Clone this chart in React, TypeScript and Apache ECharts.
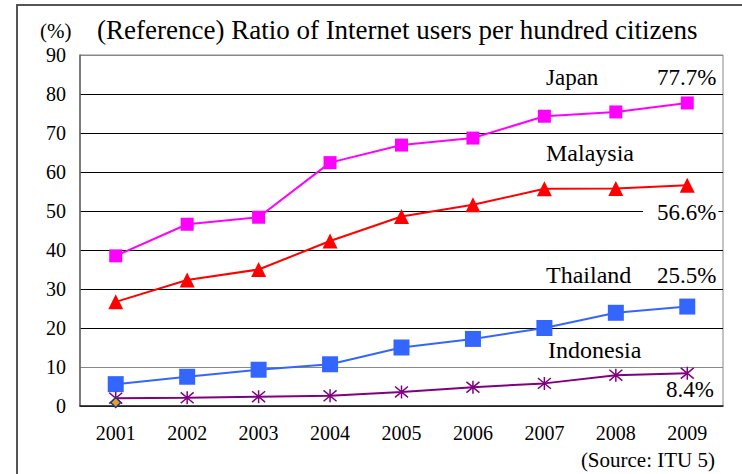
import React, { useEffect, useRef } from "react";
import * as echarts from "echarts";

const years = ["2001", "2002", "2003", "2004", "2005", "2006", "2007", "2008", "2009"];
const japan = [38.5, 46.6, 48.4, 62.4, 66.9, 68.7, 74.3, 75.4, 77.7];
const malaysia = [26.7, 32.3, 35.0, 42.3, 48.6, 51.6, 55.7, 55.8, 56.6];
const thailand = [5.6, 7.5, 9.3, 10.7, 15.0, 17.2, 20.0, 23.9, 25.5];
const indonesia = [2.0, 2.1, 2.4, 2.6, 3.6, 4.8, 5.8, 7.9, 8.4];
const extraPoint = [0.9];

const FONT = "'Liberation Serif', 'Times New Roman', serif";
const ASTERISK = "path://M0,0L10,10M10,0L0,10M5,-1L5,11";

export default function App() {
  const ref = useRef<HTMLDivElement>(null);
  useEffect(() => {
    if (!ref.current) return;
    const chart = echarts.init(ref.current, undefined, { renderer: "svg" });
    const txt = (text: string, x: number, y: number, size: number, extra: any = {}) => ({
      type: "text",
      x,
      y,
      z: 100,
      style: {
        text,
        fontFamily: FONT,
        fontSize: size,
        fill: "#000",
        verticalAlign: "middle",
        ...extra,
      },
    });
    chart.setOption({
      animation: false,
      backgroundColor: "#fff",
      textStyle: { fontFamily: FONT },
      grid: { left: 80, top: 55, right: 19, bottom: 68, show: true, borderColor: "#888", borderWidth: 1 },
      xAxis: {
        type: "category",
        data: years,
        boundaryGap: true,
        axisLine: { lineStyle: { color: "#222", width: 1.5 } },
        axisTick: { show: false },
        axisLabel: { fontFamily: FONT, fontSize: 20, color: "#000", margin: 17 },
      },
      yAxis: {
        type: "value",
        min: 0,
        max: 90,
        interval: 10,
        axisLine: { show: true, lineStyle: { color: "#666", width: 1.5 } },
        axisTick: { show: false },
        axisLabel: { fontFamily: FONT, fontSize: 20, color: "#000", margin: 14 },
        splitLine: {
          show: true,
          lineStyle: {
            color: ["#222", "#888", "#000", "#000", "#000", "#000", "#000", "#000", "#000", "#888"],
            width: 1,
          },
        },
      },
      series: [
        {
          name: "Japan",
          type: "line",
          data: japan,
          symbol: "rect",
          symbolSize: 13,
          lineStyle: { color: "#FF00FF", width: 2 },
          itemStyle: { color: "#FF00FF" },
        },
        {
          name: "Malaysia",
          type: "line",
          data: malaysia,
          symbol: "triangle",
          symbolSize: 15,
          lineStyle: { color: "#FF0000", width: 2 },
          itemStyle: { color: "#FF0000" },
        },
        {
          name: "Thailand",
          type: "line",
          data: thailand,
          symbol: "rect",
          symbolSize: 16,
          lineStyle: { color: "#3366FF", width: 2 },
          itemStyle: { color: "#3366FF" },
        },
        {
          name: "Indonesia",
          type: "line",
          data: indonesia,
          symbol: ASTERISK,
          symbolSize: 13,
          lineStyle: { color: "#800080", width: 2 },
          itemStyle: { color: "none", borderColor: "#800080", borderWidth: 1.5 },
        },
        {
          name: "extra",
          type: "line",
          data: extraPoint,
          symbol: "diamond",
          symbolSize: 10,
          z: 5,
          lineStyle: { width: 0 },
          itemStyle: { color: "#E8A020", borderColor: "#1a3a8a", borderWidth: 1.5 },
        },
      ],
      graphic: [
        {
          type: "rect",
          z: 200,
          silent: true,
          shape: { x: 17, y: 5, width: 800, height: 600 },
          style: { fill: "none", stroke: "#555", lineWidth: 2 },
        },
        txt("(%)", 40, 31, 21),
        txt("(Reference) Ratio of Internet users per hundred citizens", 97, 30, 27),
        txt("Japan", 546, 77, 23),
        txt("77.7%", 657, 77, 23),
        txt("Malaysia", 546, 153, 24),
        txt("56.6%", 643, 212, 23, { backgroundColor: "#fff", padding: [2, 2, 0, 14] }),
        txt("Thailand", 546, 275, 24),
        txt("25.5%", 657, 275, 23),
        txt("Indonesia", 548, 350, 24),
        txt("8.4%", 666, 389, 23),
        txt("(Source: ITU 5)", 715, 460, 21, { align: "right" }),
      ],
    });
    return () => chart.dispose();
  }, []);
  return <div ref={ref} style={{ width: 742, height: 474, position: "absolute", left: 0, top: 0 }} />;
}
